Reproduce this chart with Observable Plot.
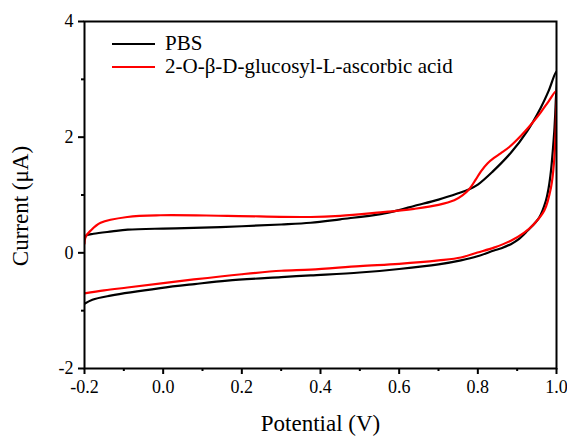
<!DOCTYPE html>
<html><head><meta charset="utf-8">
<script src="https://cdn.jsdelivr.net/npm/d3@7"></script>
<script src="https://cdn.jsdelivr.net/npm/@observablehq/plot@0.6"></script>
<style>
body{margin:0;background:#fff;}
#chart{position:relative;width:567px;height:436px;font-family:"Liberation Serif","Times New Roman",serif;}
#chart svg{display:block;}
#chart svg text{font-family:"Liberation Serif","Times New Roman",serif;font-variant:normal;}
.legend{position:absolute;left:112px;top:32px;font-size:21px;color:#000;}
.legend .row{display:flex;align-items:center;height:23px;white-space:nowrap;}
.legend .sw{width:43px;height:0;border-top:2.5px solid;margin-right:10px;}
</style></head><body><div id="chart"></div>
<script>
const seriesNames = ["PBS", "2-O-β-D-glucosyl-L-ascorbic acid"];
const seriesColors = ["#000000", "#ff0000"];

// PBS: forward (anodic) sweep then return (cathodic) sweep
const pbsPotential = [
  -0.2, -0.195, -0.177, -0.13, -0.09, 0.0, 0.077, 0.2, 0.3, 0.375, 0.45, 0.553, 0.6, 0.638, 0.7, 0.75, 0.778, 0.8, 0.837, 0.884, 0.926, 0.96, 0.98, 1.0,
  0.998, 0.995, 0.991, 0.986, 0.98, 0.973, 0.956, 0.926, 0.905, 0.884, 0.86, 0.841, 0.799, 0.757, 0.7, 0.6, 0.5, 0.375, 0.3, 0.163, 0.08, -0.007, -0.134, -0.18, -0.2
];
const pbsCurrent = [
  0.24, 0.3, 0.33, 0.37, 0.4, 0.42, 0.43, 0.46, 0.49, 0.52, 0.58, 0.67, 0.74, 0.81, 0.92, 1.03, 1.1, 1.18, 1.4, 1.73, 2.11, 2.51, 2.8, 3.14,
  2.6, 2.17, 1.8, 1.42, 1.12, 0.9, 0.61, 0.38, 0.24, 0.15, 0.08, 0.04, -0.06, -0.13, -0.2, -0.28, -0.34, -0.39, -0.42, -0.48, -0.54, -0.61, -0.74, -0.81, -0.88
];

// 2-O-β-D-glucosyl-L-ascorbic acid
const gluPotential = [
  -0.2, -0.197, -0.185, -0.159, -0.091, -0.007, 0.163, 0.375, 0.45, 0.553, 0.6, 0.638, 0.7, 0.74, 0.76, 0.778, 0.795, 0.808, 0.825, 0.841, 0.858, 0.88, 0.909, 0.939, 0.96, 0.98, 1.0,
  0.999, 0.998, 0.994, 0.986, 0.969, 0.943, 0.918, 0.884, 0.841, 0.799, 0.757, 0.7, 0.6, 0.5, 0.375, 0.3, 0.2, 0.078, -0.091, -0.15, -0.2
];
const gluCurrent = [
  0.16, 0.28, 0.38, 0.52, 0.62, 0.65, 0.64, 0.62, 0.64, 0.7, 0.73, 0.76, 0.83, 0.91, 0.99, 1.1, 1.27, 1.41, 1.55, 1.64, 1.72, 1.83, 2.02, 2.25, 2.43, 2.62, 2.8,
  2.5, 2.17, 1.59, 1.13, 0.73, 0.5, 0.35, 0.21, 0.09, 0.005, -0.08, -0.13, -0.19, -0.23, -0.29, -0.31, -0.37, -0.46, -0.6, -0.65, -0.7
];

const xTicks = [-0.2, 0.0, 0.2, 0.4, 0.6, 0.8, 1.0];
const xMinorTicks = [-0.1, 0.1, 0.3, 0.5, 0.7, 0.9];
const yTicks = [-2, 0, 2, 4];
const yMinorTicks = [-1, 1, 3];
const xLabel = "Potential (V)";
const yLabel = "Current (μA)";

const toRows = (vs, is, s) => vs.map((v, i) => ({V: v, I: is[i], series: s}));
const rows = [
  ...toRows(pbsPotential, pbsCurrent, seriesNames[0]),
  ...toRows(gluPotential, gluCurrent, seriesNames[1])
];

const serif = '"Liberation Serif","Times New Roman",serif';
const chart = Plot.plot({
  width: 567, height: 436,
  marginLeft: 84, marginRight: 11, marginTop: 21, marginBottom: 68,
  x: {domain: [-0.2, 1.0]},
  y: {domain: [-2, 4]},
  color: {domain: seriesNames, range: seriesColors},
  style: {fontFamily: serif, fontSize: "17px", color: "#000", background: "#fff"},
  marks: [
    Plot.axisX({ticks: xTicks, tickSize: 6, tickPadding: 6, tickFormat: d => d.toFixed(1), label: null, strokeWidth: 2, fontSize: 18, fontFamily: serif}),
    Plot.axisX({ticks: xMinorTicks, tickSize: 3, tickFormat: () => "", label: null, strokeWidth: 2}),
    Plot.axisY({ticks: yTicks, tickSize: 6, tickPadding: 5, tickFormat: d => String(d), label: null, strokeWidth: 2, fontSize: 18, fontFamily: serif}),
    Plot.axisY({ticks: yMinorTicks, tickSize: 3, tickFormat: () => "", label: null, strokeWidth: 2}),
    Plot.line(rows, {x: "V", y: "I", z: "series", stroke: "series", strokeWidth: 2.2, curve: "catmull-rom", clip: true}),
    Plot.frame({stroke: "#000", strokeWidth: 2}),
    Plot.text([xLabel], {text: d => d, frameAnchor: "bottom", lineAnchor: "middle", textAnchor: "middle", dy: 55, fontSize: 23, fontFamily: serif}),
    Plot.text([yLabel], {text: d => d, frameAnchor: "left", lineAnchor: "middle", textAnchor: "middle", dx: -64, dy: 11, rotate: -90, fontSize: 23, fontFamily: serif})
  ]
});

const root = document.getElementById("chart");
root.appendChild(chart);
const legend = document.createElement("div");
legend.className = "legend";
seriesNames.forEach((name, i) => {
  const row = document.createElement("div");
  row.className = "row";
  const sw = document.createElement("span");
  sw.className = "sw";
  sw.style.borderTopColor = seriesColors[i];
  const label = document.createElement("span");
  label.textContent = name;
  row.appendChild(sw);
  row.appendChild(label);
  legend.appendChild(row);
});
root.appendChild(legend);
</script></body></html>
